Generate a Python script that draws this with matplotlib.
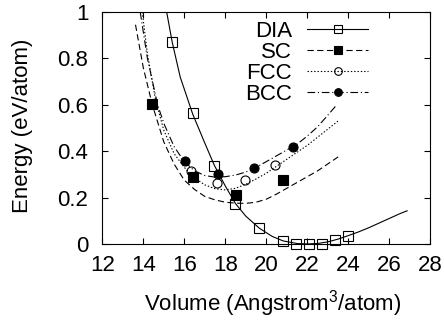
import matplotlib
matplotlib.use("Agg")
import matplotlib.pyplot as plt

plt.rcParams['font.family'] = ['Liberation Sans', 'DejaVu Sans']
plt.rcParams['mathtext.default'] = 'regular'
plt.rcParams['lines.scale_dashes'] = False

# computed points (volume, energy)
dia_v = [15.41, 16.41, 17.46, 18.49, 19.66, 20.83, 21.45, 22.08, 22.70, 23.35, 23.99]
dia_e = [0.869, 0.563, 0.336, 0.171, 0.068, 0.013, 0.0, 0.0, 0.001, 0.019, 0.036]
sc_v = [14.44, 16.41, 18.51, 20.83]
sc_e = [0.602, 0.290, 0.211, 0.275]
fcc_v = [16.33, 17.60, 18.96, 20.44]
fcc_e = [0.316, 0.263, 0.276, 0.341]
bcc_v = [16.03, 17.66, 19.41, 21.32]
bcc_e = [0.358, 0.302, 0.326, 0.418]

# fitted curves
dia_fit_v = [15.14, 15.41, 15.8, 16.41, 17.0, 17.46, 18.0, 18.49, 19.0, 19.66, 20.3,
             20.83, 21.5, 22.0, 22.5, 23.0, 23.5, 24.0, 24.5, 25.0, 25.5, 26.0, 26.5, 26.87]
dia_fit_e = [1.0, 0.87, 0.72, 0.56, 0.435, 0.34, 0.25, 0.175, 0.12, 0.068, 0.032,
             0.013, 0.002, 0.0, 0.002, 0.009, 0.021, 0.036, 0.052, 0.07, 0.09, 0.11, 0.13, 0.143]
sc_fit_v = [13.62, 14.0, 14.44, 15.0, 15.5, 16.0, 16.5, 17.0, 17.5, 18.0, 18.5, 19.0,
            19.5, 20.0, 20.5, 21.0, 21.5, 22.0, 22.5, 23.0, 23.6]
sc_fit_e = [0.945, 0.76, 0.60, 0.44, 0.345, 0.275, 0.235, 0.205, 0.19, 0.18, 0.176, 0.175,
            0.18, 0.193, 0.215, 0.24, 0.265, 0.29, 0.315, 0.345, 0.381]
fcc_fit_v = [13.95, 14.2, 14.6, 15.0, 15.5, 16.0, 16.5, 17.0, 17.5, 18.0, 18.5, 19.0,
             19.5, 20.0, 20.5, 21.0, 21.5, 22.0, 22.5, 23.0, 23.56]
fcc_fit_e = [1.0, 0.82, 0.62, 0.49, 0.39, 0.33, 0.285, 0.255, 0.238, 0.233, 0.24, 0.258,
             0.28, 0.305, 0.335, 0.365, 0.395, 0.425, 0.46, 0.495, 0.534]
bcc_fit_v = [13.85, 14.2, 14.7, 15.0, 15.5, 16.0, 16.5, 17.0, 17.5, 18.0, 18.5, 19.0,
             19.5, 20.0, 20.5, 21.0, 21.5, 22.0, 22.5, 23.0, 23.43]
bcc_fit_e = [1.0, 0.80, 0.60, 0.52, 0.42, 0.355, 0.315, 0.295, 0.288, 0.29, 0.297, 0.31,
             0.33, 0.355, 0.38, 0.405, 0.43, 0.465, 0.505, 0.555, 0.599]

labels = ['DIA', 'SC', 'FCC', 'BCC']
yticks = [0, 0.2, 0.4, 0.6, 0.8, 1]
ytick_labels = ['0', '0.2', '0.4', '0.6', '0.8', '1']
xticks = [12, 14, 16, 18, 20, 22, 24, 26, 28]

fig = plt.figure(figsize=(4.44, 3.24), dpi=100)
ax = fig.add_axes([0.2304, 0.247, 0.7387, 0.716])

lw = 0.8
styles = [
    ('-', 's', 'none'),
    ((0, (4.5, 2.5)), 's', 'k'),
    ((0, (1.0, 1.4)), 'o', 'none'),
    ((0, (5.5, 2.0, 0.8, 2.0)), 'o', 'k'),
]
curves = [(dia_fit_v, dia_fit_e), (sc_fit_v, sc_fit_e), (fcc_fit_v, fcc_fit_e), (bcc_fit_v, bcc_fit_e)]
points = [(dia_v, dia_e), (sc_v, sc_e), (fcc_v, fcc_e), (bcc_v, bcc_e)]

handles = []
for (cv, ce), (pv, pe), (ls, mk, fc), lab in zip(curves, points, styles, labels):
    ax.plot(cv, ce, color='k', lw=lw, linestyle=ls)
    ax.plot(pv, pe, linestyle='none', marker=mk, ms=6.5, mfc=fc, mec='k', mew=0.8,
            clip_on=False, zorder=3)
    h, = ax.plot([], [], color='k', lw=lw, linestyle=ls, marker=mk, ms=5.5, mfc=fc,
                 mec='k', mew=0.8, label=lab)
    handles.append(h)

ax.set_xlim(12, 28)
ax.set_ylim(0, 1)
ax.set_xticks(xticks)
ax.set_yticks(yticks)
ax.set_yticklabels(ytick_labels)
ax.tick_params(direction='in', length=4, width=0.8, top=True, right=True, labelsize=16)
ax.tick_params(axis='x', pad=8)
ax.tick_params(axis='y', pad=10)
for s in ax.spines.values():
    s.set_linewidth(0.8)

ax.set_xlabel('Volume (Angstrom$^3$/atom)', fontsize=16)
ax.set_ylabel('Energy (eV/atom)', fontsize=16)
ax.xaxis.set_label_coords(0.52, -0.19)
ax.yaxis.set_label_coords(-0.21, 0.51)

ax.legend(handles=handles, loc='upper right', bbox_to_anchor=(0.829, 0.935),
          bbox_transform=fig.transFigure, frameon=False, markerfirst=False,
          fontsize=16, numpoints=1, handlelength=2.75, handletextpad=0.68,
          labelspacing=0.0, borderpad=0, borderaxespad=0)

fig.savefig('out.png', dpi=100)
